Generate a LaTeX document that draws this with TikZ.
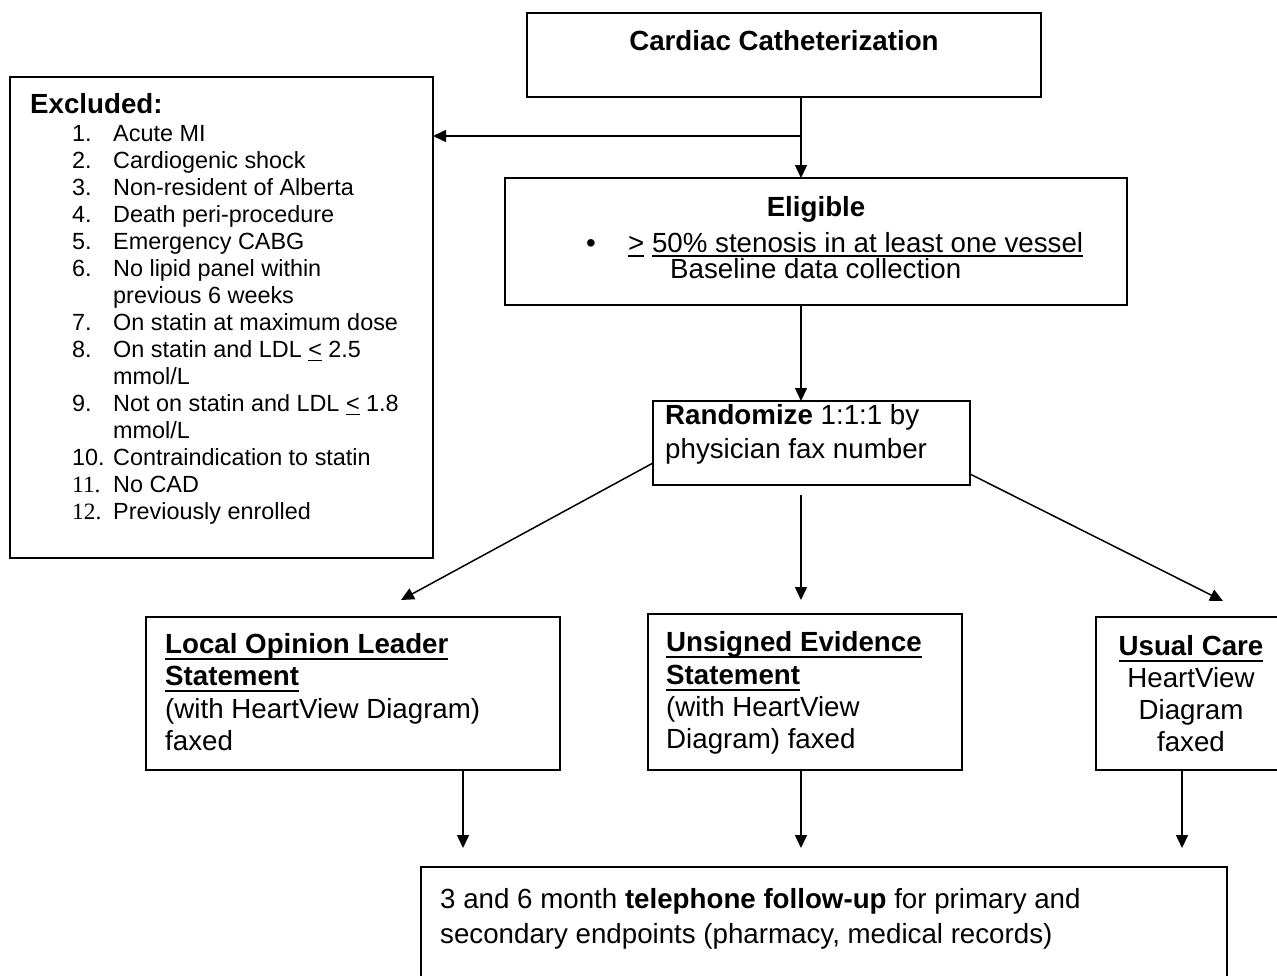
\documentclass[tikz,border=0pt]{standalone}
\usepackage{fontspec}
\setmainfont{Liberation Sans}
\newfontfamily\serifnum{Liberation Serif}
\usetikzlibrary{arrows.meta}
\newcommand{\uln}[2][6.8pt]{\setbox0=\hbox{#2}\rlap{\rule[-#1]{\wd0}{2.2pt}}\box0\relax}
\newcommand{\ulsm}[1]{\setbox0=\hbox{#1}\rlap{\rule[-4pt]{\wd0}{1.8pt}}\box0\relax}
\begin{document}
\begin{tikzpicture}[x=1pt,y=-1pt,
  box/.style={draw, line width=1.8pt, inner sep=0pt, outer sep=0pt, anchor=north west},
  conn/.style={line width=1.5pt, -{Triangle[length=13pt,width=12pt]}},
  bt/.style={inner sep=0pt, anchor=base west, font=\fontsize{27.7}{33}\selectfont},
  btc/.style={bt, anchor=base},
  lt/.style={inner sep=0pt, anchor=base west, font=\fontsize{23.4}{27}\selectfont}]
\useasboundingbox (0,0) rectangle (1277,975);
\fill[white] (0,0) rectangle (1277,975);
\clip (0,0) rectangle (1277,975);

% boxes
\node[box, minimum width=514, minimum height=84] (cath) at (527,13) {};
\node[box, minimum width=423, minimum height=481] (excl) at (10,77) {};
\node[box, minimum width=622, minimum height=127] (elig) at (505,178) {};
\node[box, minimum width=317, minimum height=84] (rand) at (653,401) {};
\node[box, minimum width=414, minimum height=153] (loc) at (146,617) {};
\node[box, minimum width=314, minimum height=156] (uns) at (648,614) {};
\node[box, minimum width=200, minimum height=153] (usu) at (1096,617) {};
\node[box, minimum width=806, minimum height=150] (fol) at (421,867) {};

% texts
\node[btc] (tcath) at (784,50) {\bfseries Cardiac Catheterization};

\node[bt] (texcl) at (30,113) {\bfseries Excluded:};
\node[lt] (ex1) at (72,141.4) {\makebox[41pt][l]{1.}Acute MI};
\node[lt] (ex2) at (72,168.4) {\makebox[41pt][l]{2.}Cardiogenic shock};
\node[lt] (ex3) at (72,195.4) {\makebox[41pt][l]{3.}Non-resident of Alberta};
\node[lt] (ex4) at (72,222.4) {\makebox[41pt][l]{4.}Death peri-procedure};
\node[lt] (ex5) at (72,249.4) {\makebox[41pt][l]{5.}Emergency CABG};
\node[lt] (ex6) at (72,276.4) {\makebox[41pt][l]{6.}No lipid panel within};
\node[lt] (ex6b) at (72,303.4) {\makebox[41pt][l]{}previous 6 weeks};
\node[lt] (ex7) at (72,330.4) {\makebox[41pt][l]{7.}On statin at maximum dose};
\node[lt] (ex8) at (72,357.4) {\makebox[41pt][l]{8.}On statin and LDL \ulsm{<} 2.5};
\node[lt] (ex8b) at (72,384.4) {\makebox[41pt][l]{}mmol/L};
\node[lt] (ex9) at (72,411.4) {\makebox[41pt][l]{9.}Not on statin and LDL \ulsm{<} 1.8};
\node[lt] (ex9b) at (72,438.4) {\makebox[41pt][l]{}mmol/L};
\node[lt] (ex10) at (72,465.4) {\makebox[41pt][l]{10.}Contraindication to statin};
\node[lt] (ex11) at (72,492.4) {\makebox[41pt][l]{\serifnum 11.}No CAD};
\node[lt] (ex12) at (72,519.4) {\makebox[41pt][l]{\serifnum 12.}Previously enrolled};

\node[btc] (telig) at (816,216) {\bfseries Eligible};
\node[btc] (tbul) at (591,252) {\textbullet};
\node[bt] (tsten) at (628,252) {\uln[4.8pt]{>} \uln[4.8pt]{50\% stenosis in at least one vessel}};
\node[bt] (tbase) at (670,278) {Baseline data collection};

\node[bt] (trand1) at (665,424) {\bfseries Randomize\mdseries{} 1:1:1 by};
\node[bt] (trand2) at (665,458) {physician fax number};

\node[bt] (tloc1) at (165,653) {\bfseries\uln{Local Opinion Leader}};
\node[bt] (tloc2) at (165,685.5) {\bfseries\uln{Statement}};
\node[bt] (tloc3) at (165,718) {(with HeartView Diagram)};
\node[bt] (tloc4) at (165,750.5) {faxed};

\node[bt] (tuns1) at (666,651) {\bfseries\uln{Unsigned Evidence}};
\node[bt] (tuns2) at (666,684) {\bfseries\uln{Statement}};
\node[bt] (tuns3) at (666,716) {(with HeartView};
\node[bt] (tuns4) at (666,748) {Diagram) faxed};

\node[btc] (tusu1) at (1191,655) {\bfseries\uln{Usual Care}};
\node[btc] (tusu2) at (1191,687) {HeartView};
\node[btc] (tusu3) at (1191,719) {Diagram};
\node[btc] (tusu4) at (1191,751) {faxed};

\node[bt] (tfol1) at (440,908) {3 and 6 month \textbf{telephone follow-up} for primary and};
\node[bt] (tfol2) at (440,943) {secondary endpoints (pharmacy, medical records)};

% connectors
\coordinate (sp) at (801,136);
\draw[line width=1.5pt] (cath.south -| sp) -- (sp);
\draw[conn] (sp) -- (elig.north -| sp);
\draw[conn] (sp) -- (excl.east |- sp);
\draw[conn] (elig.south -| sp) -- (rand.north -| sp);
\coordinate (m1) at (801,495);
\coordinate (m2) at (801,600);
\draw[conn] (m1) -- (m2);
\coordinate (tl) at (401,600);
\coordinate (tr) at (1223,601);
\draw[conn] ([yshift=-20pt]rand.west) -- (tl);
\draw[conn] ([yshift=-31pt]rand.east) -- (tr);
\coordinate (b1) at (463,848);
\coordinate (b2) at (801,848);
\coordinate (b3) at (1182,848);
\draw[conn] (loc.south -| b1) -- (b1);
\draw[conn] (uns.south -| b2) -- (b2);
\draw[conn] (usu.south -| b3) -- (b3);
\end{tikzpicture}
\end{document}
